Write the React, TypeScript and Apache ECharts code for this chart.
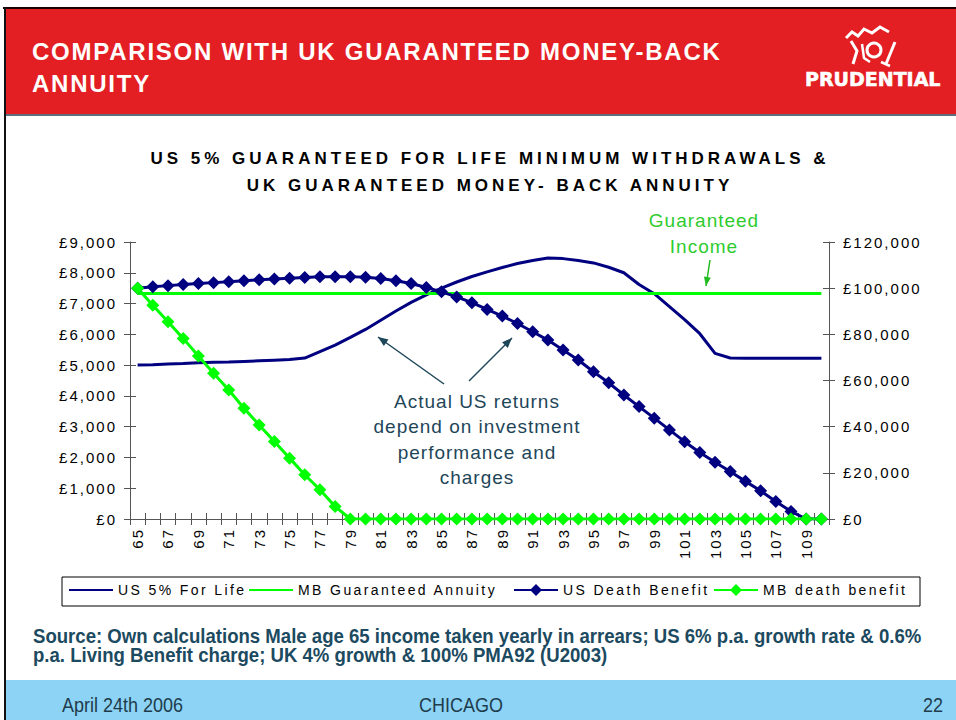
import React, { useEffect, useRef } from "react";
import * as echarts from "echarts";

// ---------- data ----------
const ages = [
  "65", "66", "67", "68", "69", "70", "71", "72", "73", "74", "75", "76", "77", "78", "79", "80",
  "81", "82", "83", "84", "85", "86", "87", "88", "89", "90", "91", "92", "93", "94", "95", "96",
  "97", "98", "99", "100", "101", "102", "103", "104", "105", "106", "107", "108", "109", "110",
];

// £ per year, left axis
const usForLife = [
  5000, 5010, 5040, 5050, 5080, 5090, 5100, 5120, 5140, 5160, 5180, 5230, 5440, 5650, 5900, 6160,
  6460, 6760, 7040, 7280, 7500, 7700, 7880, 8030, 8170, 8300, 8400, 8480, 8460, 8400, 8320, 8180,
  8000, 7620, 7320, 6900, 6480, 6020, 5380, 5230, 5220, 5220, 5220, 5220, 5220, 5220,
];

const mbGuaranteedAnnuity = [
  7330, 7330, 7330, 7330, 7330, 7330, 7330, 7330, 7330, 7330, 7330, 7330, 7330, 7330, 7330, 7330,
  7330, 7330, 7330, 7330, 7330, 7330, 7330, 7330, 7330, 7330, 7330, 7330, 7330, 7330, 7330, 7330,
  7330, 7330, 7330, 7330, 7330, 7330, 7330, 7330, 7330, 7330, 7330, 7330, 7330, 7330,
];

// £, right axis
const usDeathBenefit = [
  100000, 100600, 101100, 101600, 102000, 102400, 102800, 103200, 103600, 104000, 104300, 104600,
  104900, 105000, 105000, 104700, 104200, 103200, 102000, 100300, 98400, 96200, 93700, 90800, 87900,
  84700, 81100, 77500, 73200, 68900, 63800, 59000, 53700, 48700, 43700, 38600, 33500, 28800, 24600,
  20600, 16300, 12200, 7600, 3300, 0, 0,
];

const mbDeathBenefit = [
  100000, 92640, 85420, 78240, 70590, 63110, 55890, 47980, 40760, 33540, 26370, 19150, 12670, 5450,
  0, 0, 0, 0, 0, 0, 0, 0, 0, 0, 0, 0, 0, 0, 0, 0, 0, 0, 0, 0, 0, 0, 0, 0, 0, 0, 0, 0, 0, 0, 0, 0,
];

const seriesNames = ["US 5% For Life", "MB Guaranteed Annuity", "US Death Benefit", "MB death benefit"];

const chartTitle = ["US 5% GUARANTEED FOR LIFE MINIMUM WITHDRAWALS &", "UK GUARANTEED MONEY- BACK ANNUITY"];
const slideTitle = ["COMPARISON WITH UK GUARANTEED MONEY-BACK", "ANNUITY"];
const noteUS = ["Actual US returns", "depend on investment", "performance and", "charges"];
const noteGI = ["Guaranteed", "Income"];
const sourceLines = [
  "Source: Own calculations Male age 65 income taken yearly in arrears; US 6% p.a. growth rate & 0.6%",
  "p.a. Living Benefit charge; UK 4% growth & 100% PMA92 (U2003)",
];
const footer = ["April 24th 2006", "CHICAGO", "22"];

// ---------- styles ----------
const NAVY = "#000080";
const GREEN = "#00FF00";
const AXIS = "#555555";
const FONT = "Liberation Sans, Arial, sans-serif";
const TEAL = "#1E4659";
const GTEXT = "#2ECC2E";
const HEAD = "#FFFFFE";

const css = `
.slide text[fill="#010101"]{letter-spacing:4px}
.slide text[fill="#020202"]{letter-spacing:2px}
.slide text[fill="#030303"]{letter-spacing:2.4px}
.slide text[fill="${TEAL}"]{letter-spacing:1px}
.slide text[fill="${GTEXT}"]{letter-spacing:1px}
.slide text[fill="${HEAD}"]{letter-spacing:1.75px}
`;

const pound = (v: number) => "£" + Number(v).toLocaleString("en-GB");

function arrowHead(tip: [number, number], from: [number, number], len: number, half: number) {
  const dx = tip[0] - from[0];
  const dy = tip[1] - from[1];
  const L = Math.sqrt(dx * dx + dy * dy);
  const ux = dx / L;
  const uy = dy / L;
  const bx = tip[0] - ux * len;
  const by = tip[1] - uy * len;
  return [tip, [bx - uy * half, by + ux * half], [bx + uy * half, by - ux * half]];
}

function arrow(from: [number, number], tip: [number, number], color: string, w: number, len: number, half: number) {
  return [
    { type: "line", shape: { x1: from[0], y1: from[1], x2: tip[0], y2: tip[1] }, style: { stroke: color, lineWidth: w } },
    { type: "polygon", shape: { points: arrowHead(tip, from, len, half) }, style: { fill: color } },
  ];
}

function buildOption() {
  const txt = (x: number, y: number, text: string, o: any, extra: any = {}) => ({
    type: "text",
    x,
    y,
    ...extra,
    style: { text, textVerticalAlign: "middle", fontFamily: FONT, ...o },
  });

  const graphics: any[] = [
    // slide frame
    { type: "rect", shape: { x: 3, y: 7, width: 953, height: 2 }, style: { fill: "#1a0000" } },
    { type: "rect", shape: { x: 4, y: 7, width: 2, height: 713 }, style: { fill: "#111" } },
    { type: "rect", shape: { x: 6, y: 9, width: 950, height: 105 }, style: { fill: "#E31F24" } },
    { type: "rect", shape: { x: 6, y: 114, width: 950, height: 2 }, style: { fill: "#5B6E7A" } },
    { type: "rect", shape: { x: 6, y: 680, width: 950, height: 40 }, style: { fill: "#8CD3F5" } },
    // slide title
    txt(32, 51, slideTitle[0], { fill: HEAD, fontSize: 24, fontWeight: "bold" }),
    txt(32, 83, slideTitle[1], { fill: HEAD, fontSize: 24, fontWeight: "bold" }),
    // logo emblem
    { type: "polyline", shape: { points: [[846, 38], [852, 32], [858, 36], [864, 29], [872, 33], [880, 27], [889, 32]] }, style: { stroke: "#fff", lineWidth: 3, fill: null } },
    { type: "circle", shape: { cx: 874, cy: 50, r: 7 }, style: { stroke: "#fff", lineWidth: 3, fill: null } },
    { type: "polyline", shape: { points: [[851, 41], [857, 51], [853, 64]] }, style: { stroke: "#fff", lineWidth: 3, fill: null } },
    { type: "polyline", shape: { points: [[862, 44], [864, 58], [870, 62]] }, style: { stroke: "#fff", lineWidth: 2.5, fill: null } },
    { type: "line", shape: { x1: 895, y1: 42, x2: 886, y2: 64 }, style: { stroke: "#fff", lineWidth: 3 } },
    { type: "line", shape: { x1: 881, y1: 62, x2: 890, y2: 66 }, style: { stroke: "#fff", lineWidth: 2.5 } },
    txt(805, 79, "PRUDENTIAL", { fill: "#fff", fontSize: 19, fontWeight: "bold", fontFamily: "DejaVu Sans, sans-serif", stroke: "#fff", lineWidth: 0.6 }),
    // chart title
    txt(490, 158, chartTitle[0], { fill: "#010101", fontSize: 17, fontWeight: "bold", textAlign: "center" }),
    txt(490, 185, chartTitle[1], { fill: "#010101", fontSize: 17, fontWeight: "bold", textAlign: "center" }),
    // annotations
    txt(704, 220, noteGI[0], { fill: GTEXT, fontSize: 19, textAlign: "center" }),
    txt(704, 246, noteGI[1], { fill: GTEXT, fontSize: 19, textAlign: "center" }),
    ...arrow([710, 260], [706, 286], "#22BB22", 1.5, 9, 3.5),
    ...noteUS.map((s, i) => txt(477, 401 + i * 25.6, s, { fill: TEAL, fontSize: 19, textAlign: "center" })),
    ...arrow([444, 384], [378, 337], TEAL, 1.5, 10, 4),
    ...arrow([469, 381], [512, 338], TEAL, 1.5, 10, 4),
    // legend box
    { type: "rect", shape: { x: 62, y: 577, width: 858, height: 29 }, style: { fill: null, stroke: "#000", lineWidth: 1 } },
    // source
    txt(33, 636, sourceLines[0], { fill: "#1C4A60", fontSize: 20, fontWeight: "bold" }, { scaleX: 0.93 }),
    txt(33, 655, sourceLines[1], { fill: "#1C4A60", fontSize: 20, fontWeight: "bold" }, { scaleX: 0.93 }),
    // footer
    txt(62, 705, footer[0], { fill: "#203C4C", fontSize: 20 }, { scaleX: 0.9 }),
    txt(461, 705, footer[1], { fill: "#203C4C", fontSize: 20, textAlign: "center" }, { scaleX: 0.9 }),
    txt(943, 705, footer[2], { fill: "#203C4C", fontSize: 20, textAlign: "right" }, { scaleX: 0.9 }),
  ];

  const legendLefts = [68, 248, 513, 713];
  const legends = seriesNames.map((n, i) => {
    const lg: any = {
      data: [n],
      left: legendLefts[i],
      top: 583,
      padding: 0,
      itemWidth: 44,
      itemHeight: 15,
      selectedMode: false,
      textStyle: { color: "#030303", fontSize: 14, fontFamily: FONT },
    };
    if (i < 2) lg.itemStyle = { opacity: 0 };
    return lg;
  });

  const axisLine = { show: true, lineStyle: { color: AXIS, width: 1 } };
  const labelStyle = { color: "#020202", fontSize: 15, fontFamily: FONT };

  return {
    animation: false,
    backgroundColor: "#ffffff",
    graphic: { elements: graphics },
    legend: legends,
    grid: { left: 130, right: 127, top: 242, bottom: 201, containLabel: false },
    xAxis: [
      {
        type: "category",
        data: ages,
        boundaryGap: true,
        axisLine,
        axisTick: { show: true, interval: 0, length: 6, lineStyle: { color: AXIS } },
        axisLabel: { ...labelStyle, interval: 1, rotate: 90, margin: 9 },
        splitLine: { show: false },
      },
      {
        type: "category",
        data: ages,
        position: "bottom",
        boundaryGap: true,
        axisLine: { show: false },
        axisTick: { show: true, inside: true, interval: 0, length: 6, lineStyle: { color: AXIS } },
        axisLabel: { show: false },
        splitLine: { show: false },
      },
    ],
    yAxis: [
      {
        type: "value",
        position: "left",
        min: 0,
        max: 9000,
        interval: 1000,
        axisLine,
        axisTick: { show: true, length: 6, lineStyle: { color: AXIS } },
        axisLabel: { ...labelStyle, formatter: pound, margin: 13 },
        splitLine: { show: false },
      },
      {
        type: "value",
        position: "right",
        min: 0,
        max: 120000,
        interval: 20000,
        axisLine,
        axisTick: { show: true, length: 6, lineStyle: { color: AXIS } },
        axisLabel: { ...labelStyle, formatter: pound, margin: 14 },
        splitLine: { show: false },
      },
      {
        type: "value",
        position: "left",
        min: 0,
        max: 9000,
        interval: 1000,
        axisLine: { show: false },
        axisTick: { show: true, inside: true, length: 6, lineStyle: { color: AXIS } },
        axisLabel: { show: false },
        splitLine: { show: false },
      },
      {
        type: "value",
        position: "right",
        min: 0,
        max: 120000,
        interval: 20000,
        axisLine: { show: false },
        axisTick: { show: true, inside: true, length: 6, lineStyle: { color: AXIS } },
        axisLabel: { show: false },
        splitLine: { show: false },
      },
    ],
    series: [
      {
        name: seriesNames[0],
        type: "line",
        data: usForLife,
        xAxisIndex: 0,
        yAxisIndex: 0,
        symbol: "none",
        lineStyle: { color: NAVY, width: 3 },
        itemStyle: { color: NAVY },
      },
      {
        name: seriesNames[1],
        type: "line",
        data: mbGuaranteedAnnuity,
        xAxisIndex: 0,
        yAxisIndex: 0,
        symbol: "none",
        lineStyle: { color: GREEN, width: 3 },
        itemStyle: { color: GREEN },
      },
      {
        name: seriesNames[2],
        type: "line",
        data: usDeathBenefit,
        xAxisIndex: 0,
        yAxisIndex: 1,
        symbol: "diamond",
        symbolSize: 13,
        showAllSymbol: true,
        lineStyle: { color: NAVY, width: 3 },
        itemStyle: { color: NAVY },
      },
      {
        name: seriesNames[3],
        type: "line",
        data: mbDeathBenefit,
        xAxisIndex: 0,
        yAxisIndex: 1,
        symbol: "diamond",
        symbolSize: 13,
        showAllSymbol: true,
        lineStyle: { color: GREEN, width: 3 },
        itemStyle: { color: GREEN },
      },
    ],
  };
}

export default function App() {
  const ref = useRef<HTMLDivElement>(null);
  useEffect(() => {
    if (!ref.current) return;
    const chart = echarts.init(ref.current, null, { renderer: "svg" });
    chart.setOption(buildOption() as any);
    return () => chart.dispose();
  }, []);
  return (
    <>
      <style>{css}</style>
      <div
        ref={ref}
        className="slide"
        style={{ position: "absolute", left: 0, top: 0, width: 956, height: 720 }}
      />
    </>
  );
}
